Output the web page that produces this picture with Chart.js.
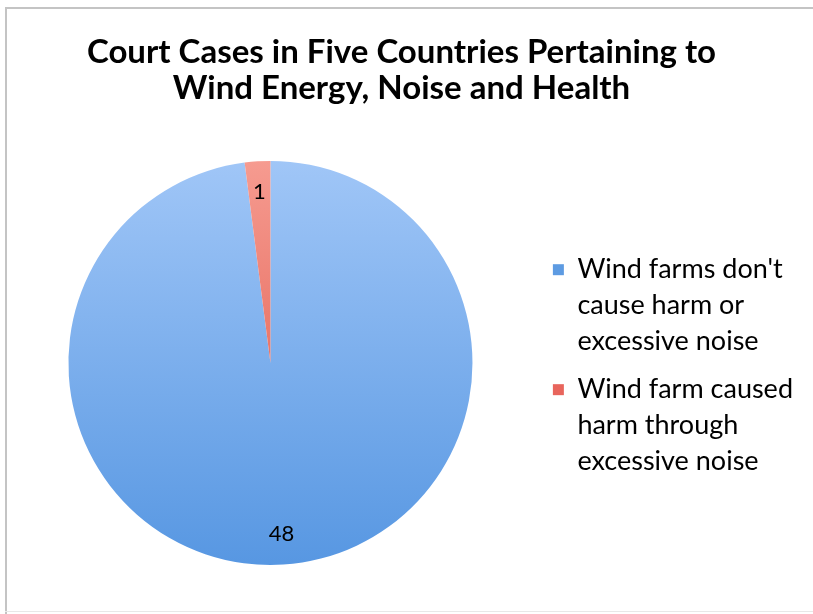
<!DOCTYPE html>
<html>
<head>
<meta charset="utf-8">
<script src="https://cdn.jsdelivr.net/npm/chart.js@4"></script>
<style>
  html, body { margin: 0; padding: 0; background: #fff; overflow: hidden; }
  #wrap { position: relative; width: 813px; height: 614px; overflow: hidden; background: #fff; }
  .ln { position: absolute; background: #c4c4c4; }
  #topline { left: 5px; top: 7px; width: 808px; height: 2px; }
  #leftline { left: 5px; top: 7px; width: 2px; height: 607px; }
  #botline { left: 5px; top: 611px; width: 808px; height: 1px; background: #e8e8e8; }
  canvas { position: absolute; left: 0; top: 0; }
</style>
</head>
<body>
<div id="wrap">
  <div class="ln" id="topline"></div>
  <div class="ln" id="leftline"></div>
  <div class="ln" id="botline"></div>
  <canvas id="c" width="813" height="614"></canvas>
</div>
<script>
const titleLines = ["Court Cases in Five Countries Pertaining to", "Wind Energy, Noise and Health"];
const categories = ["Wind farms don't cause harm or excessive noise", "Wind farm caused harm through excessive noise"];
const legendLines = [["Wind farms don't", "cause harm or", "excessive noise"], ["Wind farm caused", "harm through", "excessive noise"]];
const caseCounts = [48, 1];
const gradientStops = [["#a0c6f7", "#5797e2"], ["#f69b90", "#dc4e40"]];
const legendSwatches = ["#5d9be2", "#e8655c"];

const FONT = "Lato, 'Open Sans', 'Liberation Sans', sans-serif";

function sliceFill(ctx) {
  const chart = ctx.chart;
  const area = chart.chartArea;
  const stops = gradientStops[ctx.dataIndex];
  if (!area) return stops[1];
  const g = chart.ctx.createLinearGradient(0, area.top, 0, area.bottom);
  g.addColorStop(0, stops[0]);
  g.addColorStop(1, stops[1]);
  return g;
}

const valueLabels = {
  id: 'valueLabels',
  afterDatasetsDraw(chart) {
    const ctx = chart.ctx;
    const meta = chart.getDatasetMeta(0);
    ctx.save();
    ctx.font = "22px " + FONT;
    ctx.fillStyle = "#000";
    ctx.textAlign = "center";
    ctx.textBaseline = "middle";
    meta.data.forEach((arc, i) => {
      const p = arc.getProps(['x', 'y', 'startAngle', 'endAngle', 'outerRadius'], true);
      const mid = (p.startAngle + p.endAngle) / 2;
      const r = p.outerRadius * 0.85;
      ctx.fillText(String(caseCounts[i]), p.x + Math.cos(mid) * r, p.y + Math.sin(mid) * r);
    });
    ctx.restore();
  }
};

new Chart(document.getElementById('c'), {
  type: 'pie',
  data: {
    labels: categories,
    datasets: [{
      data: caseCounts,
      backgroundColor: sliceFill,
      borderWidth: 0
    }]
  },
  options: {
    responsive: false,
    animation: false,
    devicePixelRatio: 1,
    layout: { padding: { top: 24, bottom: 49, left: 0, right: 10 } },
    plugins: {
      title: {
        display: true,
        text: titleLines,
        color: "#000",
        font: { family: FONT, size: 33, weight: 'bold', lineHeight: 1.09 },
        padding: { top: 10, bottom: 55 }
      },
      legend: {
        position: 'right',
        fullSize: false,
        title: { display: true, text: '', color: "#000", font: { size: 12, lineHeight: 1.2 }, padding: 0 },
        labels: {
          color: "#000",
          font: { family: FONT, size: 27, lineHeight: 1.333 },
          boxWidth: 11,
          boxHeight: 11,
          padding: 12,
          generateLabels(chart) {
            return legendLines.map((t, i) => ({
              text: t,
              fillStyle: legendSwatches[i],
              strokeStyle: legendSwatches[i],
              fontColor: "#000",
              lineWidth: 0,
              hidden: false,
              index: i
            }));
          }
        }
      },
      tooltip: { enabled: false }
    }
  },
  plugins: [valueLabels]
});
</script>
</body>
</html>
